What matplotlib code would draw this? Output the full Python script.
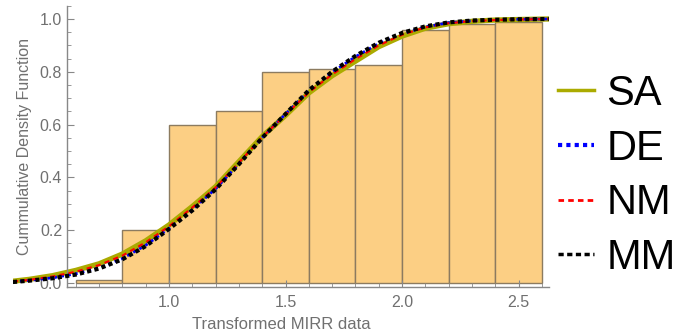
import matplotlib
matplotlib.use("Agg")
import matplotlib.pyplot as plt
from matplotlib.lines import Line2D
from matplotlib.ticker import MultipleLocator, FixedLocator
import numpy as np

plt.rcParams['font.family'] = ['Liberation Sans', 'DejaVu Sans']

# empirical cumulative histogram (bin edges + heights)
bin_edges = [0.6, 0.8, 1.0, 1.2, 1.4, 1.6, 1.8, 2.0, 2.2, 2.4, 2.6]
bin_heights = [0.01, 0.20, 0.60, 0.65, 0.80, 0.81, 0.825, 0.96, 0.98, 0.99]

# fitted CDFs for the four estimation methods
x_fit = [0.33, 0.4, 0.5, 0.6, 0.7, 0.8, 0.9, 1.0, 1.1, 1.2, 1.3, 1.4,
         1.5, 1.6, 1.7, 1.8, 1.9, 2.0, 2.1, 2.2, 2.3, 2.4, 2.5, 2.63]
cdf_sa = [0.007, 0.014, 0.028, 0.048, 0.073, 0.11, 0.16, 0.22, 0.29, 0.365, 0.46, 0.555,
          0.635, 0.72, 0.785, 0.84, 0.895, 0.935, 0.965, 0.982, 0.991, 0.996, 0.998, 1.0]
cdf_de = [0.005, 0.010, 0.020, 0.035, 0.058, 0.093, 0.143, 0.207, 0.278, 0.357, 0.452, 0.551,
          0.64, 0.728, 0.798, 0.857, 0.907, 0.944, 0.97, 0.986, 0.993, 0.997, 0.999, 1.0]
cdf_nm = [0.006, 0.012, 0.025, 0.043, 0.068, 0.104, 0.154, 0.215, 0.286, 0.362, 0.456, 0.553,
          0.637, 0.722, 0.79, 0.848, 0.9, 0.94, 0.968, 0.984, 0.992, 0.996, 0.998, 1.0]
cdf_mm = [0.004, 0.009, 0.018, 0.032, 0.055, 0.09, 0.14, 0.205, 0.275, 0.355, 0.45, 0.55,
          0.64, 0.73, 0.80, 0.86, 0.91, 0.947, 0.972, 0.987, 0.994, 0.997, 0.999, 1.0]

labels = ['SA', 'DE', 'NM', 'MM']
colors = ['#ABAB00', '#0000FF', '#FF0000', '#000000']

fig = plt.figure(figsize=(6.91, 3.36), dpi=100)
ax = fig.add_axes([0.0187, 0.1458, 0.7755, 0.837])

edges = np.array(bin_edges)
ax.bar(edges[:-1], bin_heights, width=np.diff(edges), align='edge',
       color='#FCCF84', edgecolor='#8c7b60', linewidth=1.0, zorder=1)

ax.plot(x_fit, cdf_sa, color=colors[0], lw=3.8, solid_capstyle='round', zorder=2)
ax.plot(x_fit, cdf_de, color=colors[1], lw=2.0, linestyle=(0, (1, 1.5)), zorder=3)
ax.plot(x_fit, cdf_nm, color=colors[2], lw=1.5, linestyle=(0, (2.5, 2)), zorder=4)
ax.plot(x_fit, cdf_mm, color=colors[3], lw=3.0, linestyle=(0, (1, 0.8)),
        dash_capstyle='butt', zorder=5)

ax.set_xlim(0.33, 2.63)
ax.set_ylim(-0.015, 1.05)

# axes cross Mathematica-style
gray = '#888888'
ax.spines['top'].set_visible(False)
ax.spines['right'].set_visible(False)
ax.spines['left'].set_position(('data', 0.562))
ax.spines['bottom'].set_bounds(0.562, 2.63)
for s in ('left', 'bottom'):
    ax.spines[s].set_color(gray)
    ax.spines[s].set_linewidth(1.0)

ax.xaxis.set_major_locator(FixedLocator([1.0, 1.5, 2.0, 2.5]))
ax.xaxis.set_minor_locator(FixedLocator(np.arange(0.6, 2.65, 0.1)))
ax.yaxis.set_major_locator(MultipleLocator(0.2))
ax.yaxis.set_minor_locator(MultipleLocator(0.05))
ax.tick_params(which='both', direction='in', color=gray, labelcolor='#707070')
ax.tick_params(which='major', length=5, labelsize=11.5)
ax.tick_params(which='minor', length=3)
ax.tick_params(axis='x', pad=6)
ax.xaxis.set_major_formatter(plt.FormatStrFormatter('%.1f'))
ax.yaxis.set_major_formatter(plt.FormatStrFormatter('%.1f'))

ax.set_ylabel('Cummulative Density Function', color='#707070', fontsize=11.5)
ax.yaxis.set_label_coords(0.036, 0.5)
ax.set_xlabel('Transformed MIRR data', color='#707070', fontsize=12)
ax.xaxis.set_label_coords(0.5, -0.108)

handles = [
    Line2D([], [], color=colors[0], lw=2.5),
    Line2D([], [], color=colors[1], lw=3, linestyle=(0, (1, 1))),
    Line2D([], [], color=colors[2], lw=2, linestyle=(0, (2, 1.5))),
    Line2D([], [], color=colors[3], lw=2.5, linestyle=(0, (1.5, 1))),
]
fig.legend(handles, labels, loc='upper left', bbox_to_anchor=(0.808, 0.78),
           frameon=False, fontsize=30, handlelength=0.85, handletextpad=0.3,
           labelspacing=0.35, borderpad=0, borderaxespad=0)

fig.savefig('out.png', dpi=100)
